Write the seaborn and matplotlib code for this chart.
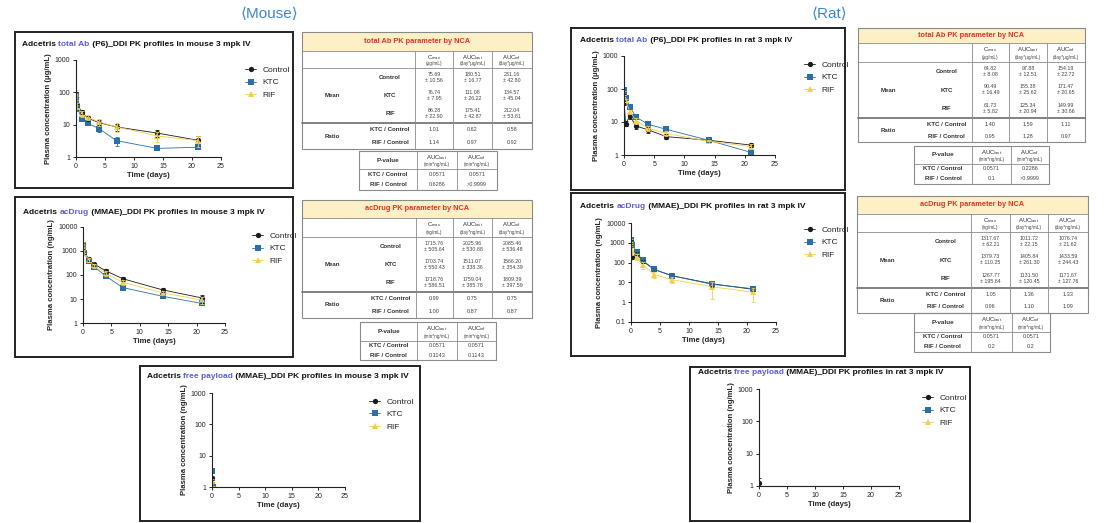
import numpy as np
import pandas as pd
import matplotlib
matplotlib.use("Agg")
import matplotlib.pyplot as plt
import seaborn as sns
from matplotlib.lines import Line2D
from matplotlib.patches import Rectangle
from matplotlib.ticker import FixedLocator, FixedFormatter, NullLocator

# ---------------- data ----------------
groups = ["Control", "KTC", "RIF"]
times = [0.0035, 0.042, 0.25, 1, 2, 4, 7, 14, 21]

# Mouse total Ab (ug/mL)
m_tab_ctrl = [92, 70, 40, 25, 16, 11.5, 8.5, 5.5, 3.3]
m_tab_ctrl_sd = [10, 10, 6, 4, 3, 2, 2, 1.2, 1.1]
m_tab_ktc = [85, 55, 32, 15.5, 11, 7.5, 3.2, 1.85, 2.0]
m_tab_ktc_sd = [8, 8, 5, 2, 1.5, 1.5, 1.0, 0.2, 0.2]
m_tab_rif = [98, 68, 38, 22, 17, 12, 8.5, 4.5, 3.2]
m_tab_rif_sd = [20, 12, 8, 5, 3, 3, 2.5, 1.5, 1.2]

# Mouse acDrug (ng/mL)
m_acd_ctrl = [2000, 1500, 950, 450, 280, 150, 70, 24, 11]
m_acd_ctrl_sd = [400, 300, 200, 80, 50, 25, 15, 5, 4]
m_acd_ktc = [1800, 1300, 800, 380, 220, 90, 30, 13, 6.5]
m_acd_ktc_sd = [400, 300, 150, 60, 40, 15, 5, 2, 1]
m_acd_rif = [1900, 1400, 850, 420, 250, 120, 50, 18, 9]
m_acd_rif_sd = [450, 300, 200, 80, 50, 25, 12, 4, 3]

# Mouse free payload (ng/mL)
fp_times = [0.0035, 0.042, 0.25]
m_fp_ctrl = [2.0, 1.2, 1.05]
m_fp_ctrl_sd = [0.3, 0.2, 0.05]
m_fp_ktc = [3.3, 1.1, 1.0]
m_fp_ktc_sd = [0.4, 0.1, 0.05]
m_fp_rif = [1.6, 1.05, 1.0]
m_fp_rif_sd = [0.2, 0.05, 0.05]

# Rat total Ab (ug/mL)
r_tab_ctrl = [62, 38, 9, 15, 7.5, 5.8, 3.6, 2.8, 2.0]
r_tab_ctrl_sd = [8, 6, 1.5, 2.5, 1.5, 1.2, 0.6, 0.3, 0.3]
r_tab_ktc = [92, 70, 55, 28, 14, 8.5, 6.0, 2.8, 1.2]
r_tab_ktc_sd = [15, 10, 8, 4, 2, 1, 0.8, 0.3, 0.1]
r_tab_rif = [75, 60, 45, 20, 11, 6.5, 4.5, 2.6, 1.8]
r_tab_rif_sd = [10, 8, 6, 3, 2, 1, 0.8, 0.3, 0.3]

# Rat acDrug (ng/mL)
r_acd_ctrl = [1300, 900, 200, 280, 120, 45, 22, 8.5, 4.5]
r_acd_ctrl_sd = [100, 100, 40, 50, 20, 8, 4, 2, 1]
r_acd_ktc = [1400, 1100, 800, 330, 130, 45, 22, 8, 4.8]
r_acd_ktc_sd = [150, 150, 100, 60, 25, 8, 4, 2, 1.2]
r_acd_rif = [1200, 500, 400, 200, 75, 25, 14, 6, 3.2]
r_acd_rif_sd = [300, 200, 150, 60, 30, 8, 5, 4.5, 2.2]

# Rat free payload (ng/mL)
r_fp_ctrl = [1.2]
r_fp_ctrl_sd = [0.6]
r_fp_times = [0.0035]

# NCA tables
col_heads = ["C$_{\\mathregular{max}}$", "AUC$_{\\mathregular{last}}$", "AUC$_{\\mathregular{inf}}$"]
tab_units = ["(\u03bcg/mL)", "(day*\u03bcg/mL)", "(day*\u03bcg/mL)"]
acd_units = ["(ng/mL)", "(day*ng/mL)", "(day*ng/mL)"]
p_units = ["(min*ng/mL)", "(min*ng/mL)"]
ratio_labels = ["KTC / Control", "RIF / Control"]

m_tab_mean = [["75.69\n\u00b1 10.56", "180.51\n\u00b1 16.77", "231.16\n\u00b1 42.80"],
              ["76.74\n\u00b1 7.95", "111.08\n\u00b1 26.22", "134.57\n\u00b1 45.04"],
              ["86.28\n\u00b1 22.90", "175.41\n\u00b1 42.87", "212.04\n\u00b1 53.81"]]
m_tab_ratio = [["1.01", "0.62", "0.58"], ["1.14", "0.97", "0.92"]]
m_tab_p = [["0.0571", "0.0571"], ["0.6286", ">0.9999"]]

m_acd_mean = [["1715.76\n\u00b1 505.64", "2025.96\n\u00b1 530.88", "2085.46\n\u00b1 536.48"],
              ["1703.74\n\u00b1 550.43", "1511.07\n\u00b1 338.36", "1566.20\n\u00b1 354.39"],
              ["1718.76\n\u00b1 586.51", "1759.04\n\u00b1 385.78", "1809.39\n\u00b1 397.59"]]
m_acd_ratio = [["0.99", "0.75", "0.75"], ["1.00", "0.87", "0.87"]]
m_acd_p = [["0.0571", "0.0571"], ["0.1143", "0.1143"]]

r_tab_mean = [["64.82\n\u00b1 8.08", "97.88\n\u00b1 12.51", "154.19\n\u00b1 22.72"],
              ["90.49\n\u00b1 16.49", "155.38\n\u00b1 25.62", "171.47\n\u00b1 20.65"],
              ["61.73\n\u00b1 5.82", "125.34\n\u00b1 20.94", "149.99\n\u00b1 30.66"]]
r_tab_ratio = [["1.40", "1.59", "1.11"], ["0.95", "1.28", "0.97"]]
r_tab_p = [["0.0571", "0.2286"], ["0.1", ">0.9999"]]

r_acd_mean = [["1317.67\n\u00b1 62.21", "1011.72\n\u00b1 22.15", "1076.74\n\u00b1 21.62"],
              ["1379.73\n\u00b1 110.25", "1405.84\n\u00b1 261.30", "1433.59\n\u00b1 244.43"],
              ["1267.77\n\u00b1 195.64", "1131.50\n\u00b1 120.45", "1171.67\n\u00b1 127.76"]]
r_acd_ratio = [["1.05", "1.36", "1.33"], ["0.96", "1.10", "1.09"]]
r_acd_p = [["0.0571", "0.0571"], ["0.2", "0.2"]]

# ---------------- style ----------------
sns.set_theme(style="ticks")
plt.rcParams["font.family"] = ["Liberation Sans", "DejaVu Sans"]
plt.rcParams["mathtext.default"] = "regular"

PAL = {"Control": "#1b1b1b", "KTC": "#2a6fa8", "RIF": "#f5cf4a"}
MARK = {"Control": "o", "KTC": "s", "RIF": "^"}
HL = "#5b5bd8"

W, H = 1104, 523
fig = plt.figure(figsize=(W / 100, H / 100), dpi=100)
fig.patch.set_facecolor("white")
ov = fig.add_axes([0, 0, 1, 1])
ov.set_xlim(0, W)
ov.set_ylim(H, 0)
ov.axis("off")
ov.set_zorder(-1)
renderer = fig.canvas.get_renderer()


def frac(l, t, r, b):
    return [l / W, 1 - b / H, (r - l) / W, (b - t) / H]


def text_w(s, **kw):
    t = ov.text(0, 0, s, **kw)
    w = t.get_window_extent(renderer).width
    t.remove()
    return w


def multi_text(x, y, parts, fs, weight="bold"):
    prefix = ""
    for s, col in parts:
        dx = text_w(prefix + "I", fontsize=fs, fontweight=weight) - text_w("I", fontsize=fs, fontweight=weight) if prefix else 0
        ov.text(x + dx, y, s, color=col, fontsize=fs, fontweight=weight, va="center", ha="left")
        prefix += s


def pk_plot(box, rect, series, ylim, yticks, ylabel, title_parts, title_xy, leg_xy):
    ov.add_patch(Rectangle((box[0], box[1]), box[2] - box[0], box[3] - box[1],
                           fill=False, lw=1.4, ec="#222222"))
    multi_text(title_xy[0], title_xy[1], title_parts, 6.0)
    ax = fig.add_axes(frac(*rect))
    ax.set_facecolor("none")
    rows = []
    for g, t, m, sd in series:
        for ti, mi in zip(t, m):
            rows.append({"Time": ti, "Conc": mi, "Group": g})
    df = pd.DataFrame(rows)
    present = [g for g in groups if g in set(df["Group"])]
    sns.lineplot(data=df, x="Time", y="Conc", hue="Group", style="Group",
                 hue_order=present, style_order=present,
                 palette={g: PAL[g] for g in present},
                 markers={g: MARK[g] for g in present}, dashes=False,
                 linewidth=0.6, markersize=3.8, markeredgewidth=0,
                 errorbar=None, legend=False, ax=ax)
    for g, t, m, sd in series:
        m = np.array(m, float)
        sd = np.array(sd, float)
        lo = np.minimum(sd, m * 0.9)
        ax.errorbar(t, m, yerr=[lo, sd], fmt="none", ecolor=PAL[g], elinewidth=0.6,
                    capsize=1.5, capthick=0.6)
    ax.set_yscale("log")
    ax.set_ylim(*ylim)
    ax.set_xlim(0, 25)
    ax.yaxis.set_major_locator(FixedLocator(yticks))
    ax.yaxis.set_major_formatter(FixedFormatter([("%g" % v) for v in yticks]))
    ax.yaxis.set_minor_locator(NullLocator())
    ax.set_xticks([0, 5, 10, 15, 20, 25])
    ax.tick_params(labelsize=5, length=2.5, width=0.7, pad=1.5)
    for s in ["left", "bottom"]:
        ax.spines[s].set_linewidth(0.8)
        ax.spines[s].set_color("#222222")
    sns.despine(ax=ax)
    ax.set_xlabel("Time (days)", fontsize=5.6, fontweight="bold", labelpad=2)
    ax.set_ylabel(ylabel, fontsize=5.6, fontweight="bold", labelpad=2)
    handles = [Line2D([0], [0], color=PAL[g], marker=MARK[g], markersize=3.8,
                      markeredgewidth=0, lw=0.6) for g in groups]
    ax.legend(handles, groups, loc="upper left",
              bbox_to_anchor=(leg_xy[0] / W, 1 - leg_xy[1] / H),
              bbox_transform=fig.transFigure, frameon=False, fontsize=6,
              handlelength=1.3, handletextpad=0.8, labelspacing=0.55, borderpad=0)
    return ax


def nca_table(l, r, top, y_yel, y_hdr, y_mean, y_ratio, cols, title, units, mean, ratio):
    gray = "#8a8a8a"
    ov.add_patch(Rectangle((l, top), r - l, y_yel - top, fc="#fdf0c6", ec="none"))
    ov.add_patch(Rectangle((l, top), r - l, y_ratio - top, fill=False, ec=gray, lw=0.8))
    ov.plot([l, r], [y_yel, y_yel], color=gray, lw=0.6)
    ov.plot([l, r], [y_hdr, y_hdr], color=gray, lw=0.6)
    ov.plot([l, r], [y_mean, y_mean], color="#777777", lw=1.3)
    for c in cols:
        ov.plot([c, c], [y_yel, y_ratio], color=gray, lw=0.6)
    ov.text((l + r) / 2, (top + y_yel) / 2, title, color="#e03228", fontsize=5.3,
            fontweight="bold", ha="center", va="center")
    edges = list(cols) + [r]
    ctrs = [(edges[i] + edges[i + 1]) / 2 for i in range(3)]
    hh = y_hdr - y_yel
    for i in range(3):
        ov.text(ctrs[i], y_yel + hh * 0.36, col_heads[i], fontsize=4.3, ha="center",
                va="center", color="#333333")
        ov.text(ctrs[i], y_yel + hh * 0.74, units[i], fontsize=3.4, ha="center",
                va="center", color="#444444")
    xa = l + (cols[0] - l) * 0.27
    xb = l + (cols[0] - l) * 0.78
    ov.text(xa, (y_hdr + y_mean) / 2, "Mean", fontsize=4.4, ha="center", va="center",
            color="#333333", fontweight="semibold")
    rh = (y_mean - y_hdr) / 3
    for j, g in enumerate(groups):
        yc = y_hdr + rh * (j + 0.5)
        ov.text(xb, yc, g, fontsize=4.4, ha="center", va="center", color="#333333",
                fontweight="semibold")
        for i in range(3):
            ov.text(ctrs[i], yc, mean[j][i], fontsize=3.8, ha="center", va="center",
                    color="#444444", linespacing=1.25)
    ov.text(xa, (y_mean + y_ratio) / 2, "Ratio", fontsize=4.4, ha="center", va="center",
            color="#333333", fontweight="semibold")
    rh2 = (y_ratio - y_mean) / 2
    for j, lab in enumerate(ratio_labels):
        yc = y_mean + rh2 * (j + 0.5)
        ov.text(xb, yc, lab, fontsize=4.4, ha="center", va="center", color="#333333",
                fontweight="semibold")
        for i in range(3):
            ov.text(ctrs[i], yc, ratio[j][i], fontsize=4.0, ha="center", va="center",
                    color="#444444")


def p_table(l, r, top, y_hdr, bot, cols, pvals):
    gray = "#8a8a8a"
    ov.add_patch(Rectangle((l, top), r - l, bot - top, fill=False, ec=gray, lw=0.8))
    ov.plot([l, r], [y_hdr, y_hdr], color=gray, lw=0.6)
    for c in cols:
        ov.plot([c, c], [top, bot], color=gray, lw=0.6)
    edges = [l] + list(cols) + [r]
    ctrs = [(edges[i] + edges[i + 1]) / 2 for i in range(3)]
    hh = y_hdr - top
    ov.text(ctrs[0], (top + y_hdr) / 2, "P-value", fontsize=4.6, ha="center", va="center",
            color="#333333", fontweight="semibold")
    for i in range(2):
        ov.text(ctrs[i + 1], top + hh * 0.36, col_heads[i + 1], fontsize=4.3, ha="center",
                va="center", color="#333333")
        ov.text(ctrs[i + 1], top + hh * 0.74, p_units[i], fontsize=3.4, ha="center",
                va="center", color="#444444")
    rh = (bot - y_hdr) / 2
    for j, lab in enumerate(ratio_labels):
        yc = y_hdr + rh * (j + 0.5)
        ov.text(ctrs[0], yc, lab, fontsize=4.4, ha="center", va="center", color="#333333",
                fontweight="semibold")
        for i in range(2):
            ov.text(ctrs[i + 1], yc, pvals[j][i], fontsize=4.0, ha="center", va="center",
                    color="#444444")


# ---------------- headers ----------------
ov.text(270, 14, "\u27e8Mouse\u27e9", fontsize=11, color="#3a86d4", ha="center", va="center")
ov.text(830, 14, "\u27e8Rat\u27e9", fontsize=11, color="#3a86d4", ha="center", va="center")

ylab_ug = "Plasma concentration (\u03bcg/mL)"
ylab_ng = "Plasma concentration (ng/mL)"

# ---------------- mouse ----------------
pk_plot((15, 32, 293, 188), (76, 60, 221, 157),
        [("Control", times, m_tab_ctrl, m_tab_ctrl_sd),
         ("KTC", times, m_tab_ktc, m_tab_ktc_sd),
         ("RIF", times, m_tab_rif, m_tab_rif_sd)],
        (1, 1000), [1, 10, 100, 1000], ylab_ug,
        [("Adcetris ", "#111111"), ("total Ab", HL), (" (P6)_DDI PK profiles in mouse 3 mpk IV", "#111111")],
        (22, 45), (241, 62))

pk_plot((15, 197, 293, 357), (83, 227, 225, 323),
        [("Control", times, m_acd_ctrl, m_acd_ctrl_sd),
         ("KTC", times, m_acd_ktc, m_acd_ktc_sd),
         ("RIF", times, m_acd_rif, m_acd_rif_sd)],
        (1, 10000), [1, 10, 100, 1000, 10000], ylab_ng,
        [("Adcetris ", "#111111"), ("acDrug", HL), (" (MMAE)_DDI PK profiles in mouse 3 mpk IV", "#111111")],
        (23, 212), (248, 228))

pk_plot((140, 366, 420, 521), (212, 393, 345, 487),
        [("Control", fp_times, m_fp_ctrl, m_fp_ctrl_sd),
         ("KTC", fp_times, m_fp_ktc, m_fp_ktc_sd),
         ("RIF", fp_times, m_fp_rif, m_fp_rif_sd)],
        (1, 1000), [1, 10, 100, 1000], ylab_ng,
        [("Adcetris ", "#111111"), ("free payload", HL), (" (MMAE)_DDI PK profiles in mouse 3 mpk IV", "#111111")],
        (147, 376), (365, 394))

nca_table(302, 532, 32, 51, 68, 123, 149, [415, 453, 492],
          "total Ab PK parameter by NCA", tab_units, m_tab_mean, m_tab_ratio)
p_table(359, 497, 151, 169, 190, [417, 457], m_tab_p)
nca_table(302, 532, 200, 218, 237, 292, 318, [416, 453, 492],
          "acDrug PK parameter by NCA", acd_units, m_acd_mean, m_acd_ratio)
p_table(360, 496, 322, 341, 360, [417, 457], m_acd_p)

# ---------------- rat ----------------
pk_plot((571, 28, 845, 190), (624, 56, 775, 155),
        [("Control", times, r_tab_ctrl, r_tab_ctrl_sd),
         ("KTC", times, r_tab_ktc, r_tab_ktc_sd),
         ("RIF", times, r_tab_rif, r_tab_rif_sd)],
        (1, 1000), [1, 10, 100, 1000], ylab_ug,
        [("Adcetris ", "#111111"), ("total Ab", HL), (" (P6)_DDI PK profiles in rat 3 mpk IV", "#111111")],
        (580, 40), (800, 57))

pk_plot((571, 193, 845, 356), (631, 223, 776, 322),
        [("Control", times, r_acd_ctrl, r_acd_ctrl_sd),
         ("KTC", times, r_acd_ktc, r_acd_ktc_sd),
         ("RIF", times, r_acd_rif, r_acd_rif_sd)],
        (0.1, 10000), [0.1, 1, 10, 100, 1000, 10000], ylab_ng,
        [("Adcetris ", "#111111"), ("acDrug", HL), (" (MMAE)_DDI PK profiles in rat 3 mpk IV", "#111111")],
        (580, 207), (800, 222))

pk_plot((690, 367, 970, 521), (759, 389, 899, 486),
        [("Control", r_fp_times, r_fp_ctrl, r_fp_ctrl_sd)],
        (1, 1000), [1, 10, 100, 1000], ylab_ng,
        [("Adcetris ", "#111111"), ("free payload", HL), (" (MMAE)_DDI PK profiles in rat 3 mpk IV", "#111111")],
        (698, 373), (918, 390))

nca_table(858, 1085, 28, 43, 62, 118, 142, [972, 1009, 1047],
          "total Ab PK parameter by NCA", tab_units, r_tab_mean, r_tab_ratio)
p_table(914, 1049, 146, 164, 184, [972, 1011], r_tab_p)
nca_table(857, 1088, 196, 214, 232, 288, 313, [971, 1010, 1048],
          "acDrug PK parameter by NCA", acd_units, r_acd_mean, r_acd_ratio)
p_table(914, 1050, 313, 332, 352, [971, 1012], r_acd_p)

fig.savefig("out.png", dpi=100, facecolor="white")
